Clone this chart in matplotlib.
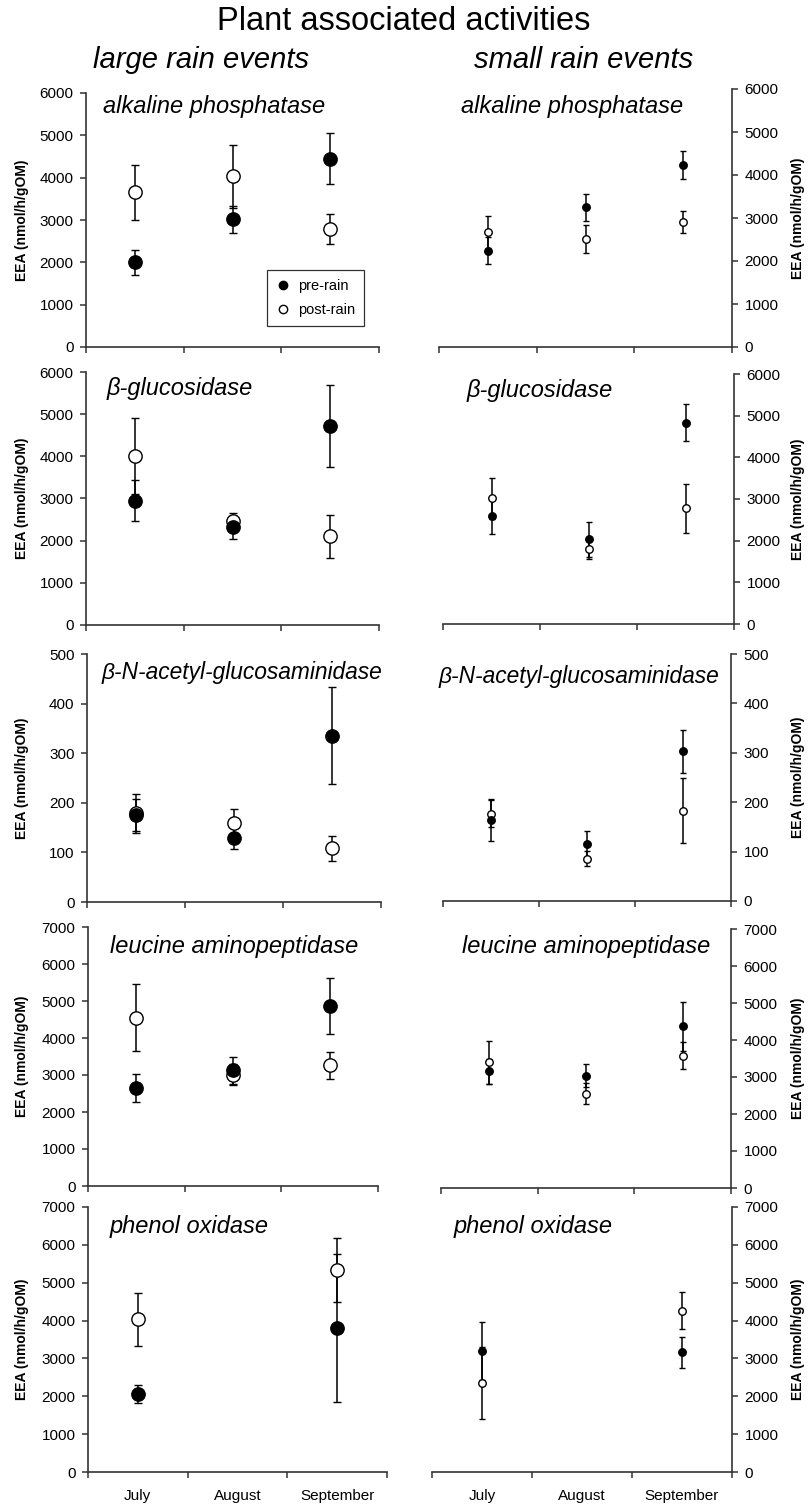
import numpy as np
import matplotlib
matplotlib.use("Agg")
import matplotlib.pyplot as plt
from matplotlib.lines import Line2D

plt.rcParams["font.family"] = ["Liberation Sans", "DejaVu Sans"]

# --- Data (means and error bars) ---
months = ["July", "August", "September"]
enzymes = ["alkaline phosphatase", "β-glucosidase", "β-N-acetyl-glucosaminidase",
           "leucine aminopeptidase", "phenol oxidase"]
y_max = [6000, 6000, 500, 7000, 7000]
y_step = [1000, 1000, 100, 1000, 1000]
nan = np.nan

large_pre_mean = [
    [2000, 3020, 4450],
    [2950, 2315, 4720],
    [175, 130, 335],
    [2650, 3130, 4860],
    [2060, nan, 3810],
]
large_pre_err = [
    [300, 320, 610],
    [490, 270, 970],
    [32, 23, 98],
    [390, 360, 765],
    [250, nan, 1955],
]
large_post_mean = [
    [3660, 4030, 2780],
    [4010, 2470, 2100],
    [179, 160, 108],
    [4550, 3010, 3260],
    [4030, nan, 5330],
]
large_post_err = [
    [650, 740, 350],
    [900, 175, 510],
    [39, 27, 26],
    [900, 290, 370],
    [710, nan, 850],
]
small_pre_mean = [
    [2240, 3250, 4235],
    [2590, 2030, 4830],
    [164, 115, 303],
    [3150, 3040, 4365],
    [3200, nan, 3160],
]
small_pre_err = [
    [317, 310, 327],
    [440, 420, 440],
    [42, 27, 43],
    [335, 310, 650],
    [773, nan, 400],
]
small_post_mean = [
    [2680, 2510, 2915],
    [3015, 1800, 2775],
    [177, 86, 183],
    [3400, 2545, 3580],
    [2345, nan, 4260],
]
small_post_err = [
    [373, 330, 255],
    [495, 250, 585],
    [27, 15, 66],
    [585, 280, 365],
    [950, nan, 485],
]

# --- Layout (pixels) ---
W, H = 808, 1507
left_x0 = [86, 86, 87, 88, 88]
left_x1 = [379, 379, 381, 378, 387]
left_top = [93, 372, 654, 927, 1207]
left_bot = [347, 625, 902, 1186, 1472]
right_x0 = [439, 443, 443, 441, 432]
right_x1 = [732, 734, 731, 731, 732]
right_top = [89, 374, 654, 929, 1207]
right_bot = [347, 624, 901, 1188, 1472]
left_title_pos = [(103, 107), (107, 388), (102, 672), (110, 947), (110, 1227)]
right_title_pos = [(461, 107), (467, 390), (439, 676), (462, 947), (454, 1227)]
title_size = [17, 17, 16.4, 17, 17]
LEFT_YLABEL_X = 29   # right edge of rotated label
RIGHT_YLABEL_X = 791  # left edge of rotated label

SPINE = "#333333"


def px_axes(fig, x0, x1, top, bot):
    return fig.add_axes([x0 / W, 1 - bot / H, (x1 - x0) / W, (bot - top) / H])


def style_axes(ax, i, side, x0, x1):
    ax.set_xlim(0, 3)
    ax.set_ylim(0, y_max[i])
    ax.set_yticks(np.arange(0, y_max[i] + 1, y_step[i]))
    ax.set_xticks([0, 1, 2, 3])
    ax.set_xticklabels([])
    ax.set_xticks([0.5, 1.5, 2.5], minor=True)
    if i == len(enzymes) - 1:
        ax.set_xticklabels(months, minor=True, fontsize=11)
    else:
        ax.set_xticklabels([], minor=True)
    ax.tick_params(axis="x", which="major", direction="out", length=4, width=1.1, color=SPINE)
    ax.tick_params(axis="x", which="minor", length=0, pad=12)
    ax.tick_params(axis="y", direction="out", length=4, width=1.1, color=SPINE,
                   labelsize=11, pad=5)
    ax.spines["top"].set_visible(False)
    for s in ("left", "right", "bottom"):
        ax.spines[s].set_color(SPINE)
        ax.spines[s].set_linewidth(1.2)
    if side == "left":
        ax.spines["right"].set_visible(False)
        ax.yaxis.set_label_coords((LEFT_YLABEL_X - x0) / (x1 - x0), 0.5)
    else:
        ax.spines["left"].set_visible(False)
        ax.yaxis.tick_right()
        ax.yaxis.set_label_position("right")
        ax.yaxis.set_label_coords((RIGHT_YLABEL_X - x0) / (x1 - x0), 0.5)
    ax.set_ylabel("EEA (nmol/h/gOM)", fontsize=10, fontweight="bold")


def draw(ax, pre, pre_err, post, post_err, ms, cap):
    x = np.array([0.5, 1.5, 2.5])
    kw = dict(fmt="o", ecolor="black", elinewidth=1.1, capsize=cap, capthick=1.1,
              mec="black", mew=1.0, ms=ms)
    ax.errorbar(x, post, yerr=post_err, mfc="white", **kw)
    ax.errorbar(x, pre, yerr=pre_err, mfc="black", **kw)


fig = plt.figure(figsize=(W / 100, H / 100), dpi=100)

fig.text(404 / W, 1 - 21 / H, "Plant associated activities", ha="center", va="center",
         fontsize=23.5)
fig.text(201 / W, 1 - 68 / H, "large rain events", ha="center", va="baseline",
         fontsize=21, style="italic")
fig.text(584 / W, 1 - 68 / H, "small rain events", ha="center", va="baseline",
         fontsize=21, style="italic")

for i, name in enumerate(enzymes):
    axl = px_axes(fig, left_x0[i], left_x1[i], left_top[i], left_bot[i])
    style_axes(axl, i, "left", left_x0[i], left_x1[i])
    draw(axl, large_pre_mean[i], large_pre_err[i], large_post_mean[i], large_post_err[i],
         ms=9.6, cap=3)
    tx, ty = left_title_pos[i]
    fig.text(tx / W, 1 - ty / H, name, ha="left", va="center", fontsize=title_size[i],
             style="italic")

    axr = px_axes(fig, right_x0[i], right_x1[i], right_top[i], right_bot[i])
    style_axes(axr, i, "right", right_x0[i], right_x1[i])
    draw(axr, small_pre_mean[i], small_pre_err[i], small_post_mean[i], small_post_err[i],
         ms=5.4, cap=2.5)
    tx, ty = right_title_pos[i]
    fig.text(tx / W, 1 - ty / H, name, ha="left", va="center", fontsize=title_size[i],
             style="italic")

    if i == 0:
        handles = [
            Line2D([], [], ls="none", marker="o", ms=6, mfc="black", mec="black"),
            Line2D([], [], ls="none", marker="o", ms=6, mfc="white", mec="black"),
        ]
        leg = axl.legend(handles, ["pre-rain", "post-rain"], loc="upper left",
                         bbox_to_anchor=(0.618, 0.303), fontsize=10.5, frameon=True,
                         fancybox=False, edgecolor="black", handlelength=1.0,
                         handletextpad=0.5, borderpad=0.6, labelspacing=0.7,
                         borderaxespad=0)
        leg.get_frame().set_linewidth(0.9)

fig.savefig("out.png", dpi=100)
